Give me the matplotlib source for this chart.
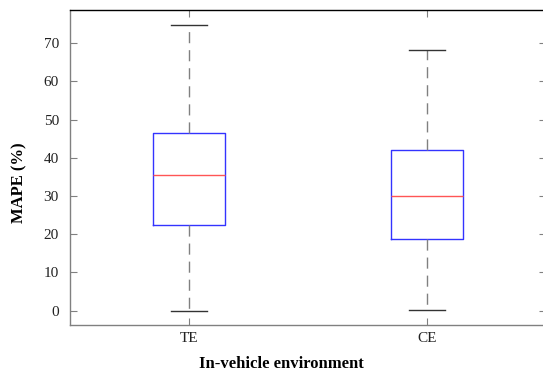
import matplotlib
matplotlib.use("Agg")
import matplotlib.pyplot as plt

# --- data ---
categories = ["TE", "CE"]
whisker_low = [0.0, 0.1]
q1 = [22.3, 18.8]
medians = [35.6, 29.9]
q3 = [46.4, 42.1]
whisker_high = [74.9, 68.3]
y_ticks = [0, 10, 20, 30, 40, 50, 60, 70]

plt.rcParams['font.family'] = ['Liberation Serif', 'DejaVu Serif']

fig = plt.figure(figsize=(5.43, 3.73), dpi=100)
ax = fig.add_axes([70 / 543, 48 / 373, 476 / 543, 315 / 373])

stats = []
for i, lab in enumerate(categories):
    stats.append(dict(label=lab, whislo=whisker_low[i], q1=q1[i], med=medians[i],
                      q3=q3[i], whishi=whisker_high[i], fliers=[]))

ax.bxp(stats, positions=[1, 2], widths=0.3, showfliers=False,
       boxprops=dict(color='#3333ff', linewidth=1.0),
       medianprops=dict(color='#ff5555', linewidth=1.0),
       whiskerprops=dict(color='#808080', linewidth=1.0, linestyle=(0, (8, 5))),
       capprops=dict(color='#333333', linewidth=1.0), capwidths=0.15)

ax.set_xlim(0.5, 2.5)
ax.set_ylim(-3.75, 78.7)
ax.set_yticks(y_ticks)
ax.set_xticks([1, 2])
ax.set_xticklabels(categories)

ax.tick_params(direction='in', length=5, color='#808080', labelsize=11,
               labelcolor='#222222', top=True, right=True)
ax.tick_params(axis='x', pad=5)
ax.tick_params(axis='y', pad=8)
ax.spines['left'].set_color('#808080')
ax.spines['bottom'].set_color('#808080')
ax.spines['right'].set_visible(False)
ax.spines['top'].set_color('black')
for s in ax.spines.values():
    s.set_linewidth(1.0)

ax.set_xlabel("In-vehicle environment", fontweight='bold', fontsize=12, va='center')
ax.xaxis.set_label_coords((281 - 70) / 476, -39 / 315)
ax.set_ylabel("MAPE (%)", fontweight='bold', fontsize=12, va='center')
ax.yaxis.set_label_coords((19 - 70) / 476, (325 - 183) / 315)

fig.savefig("out.png", dpi=100)
